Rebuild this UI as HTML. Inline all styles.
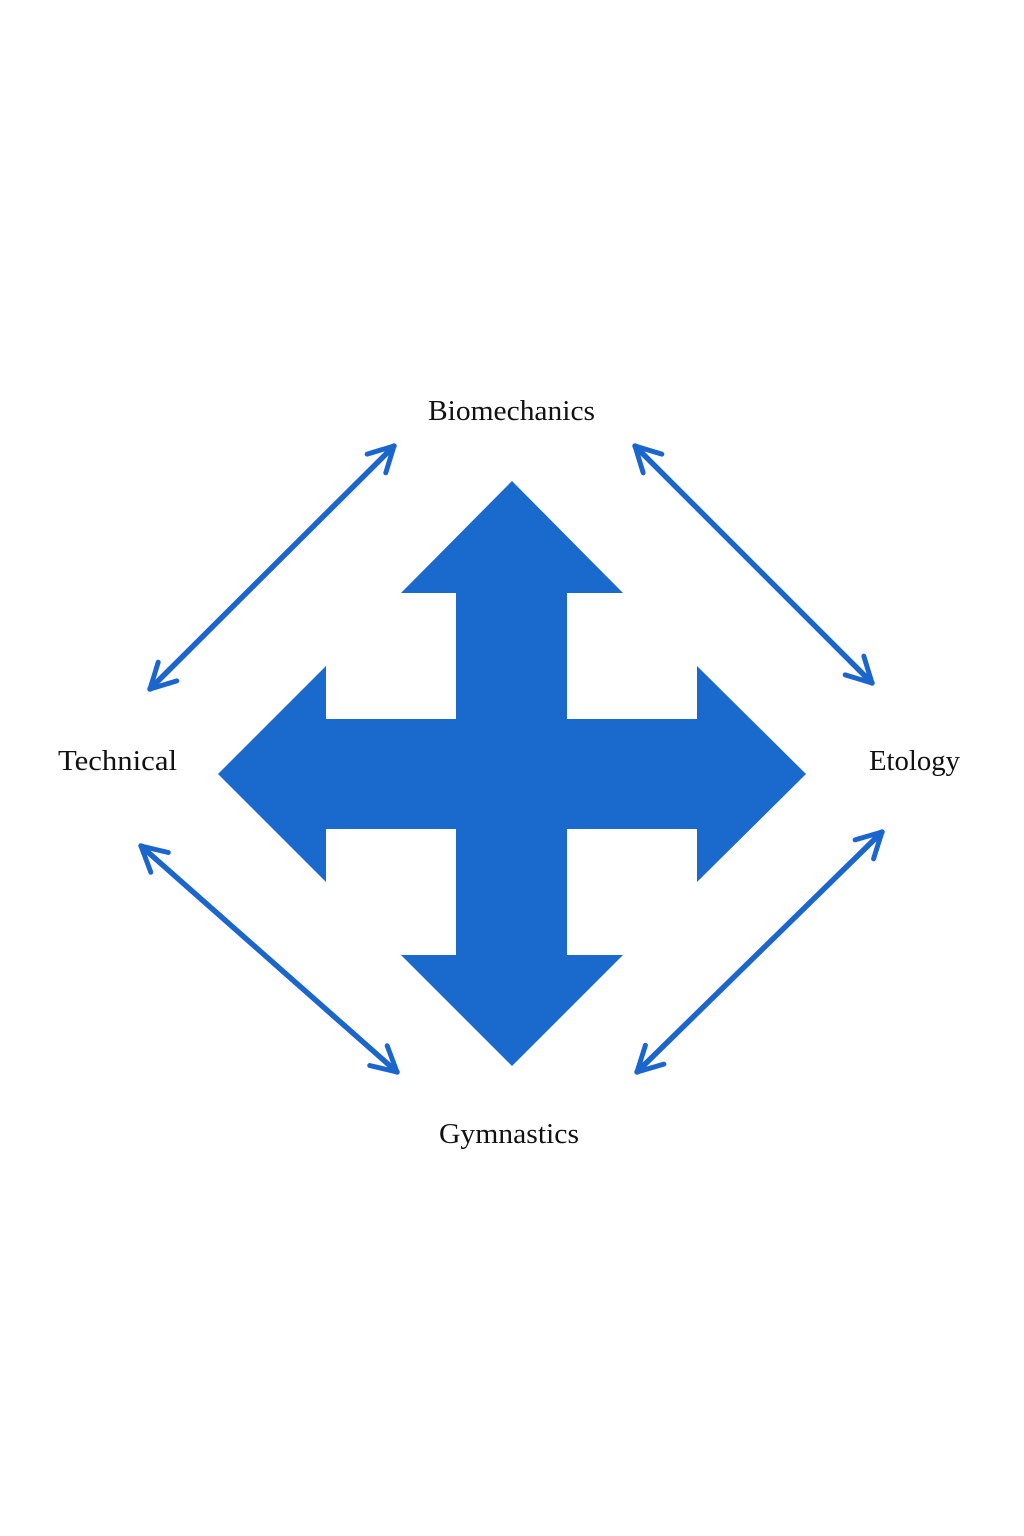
<!DOCTYPE html>
<html><head><style>
html,body{margin:0;padding:0;background:#fff;}
svg{display:block;}
text{font-family:"Liberation Serif",serif;font-size:28px;fill:#111;}
</style></head><body>
<svg width="1024" height="1536" viewBox="0 0 1024 1536">
<defs>
<marker id="a" viewBox="0 0 10 10" refX="8.5" refY="5" markerWidth="6" markerHeight="6" orient="auto-start-reverse" markerUnits="strokeWidth">
<path d="M1,1 L8.5,5 L1,9" fill="none" stroke="#1a66cc" stroke-width="1.5" stroke-linecap="round" stroke-linejoin="round"/>
</marker>
</defs>
<polygon fill="#1a69cc" points="512,481 623,593 567,593 567,719 697,719 697,666 806,774 697,882 697,829 567,829 567,955 623,955 512,1066 401,955 456,955 456,829 326,829 326,882 218,774 326,666 326,719 456,719 456,593 401,593"/>
<g stroke="#1a66cc" stroke-width="5.5" stroke-linecap="round" marker-start="url(#a)" marker-end="url(#a)">
<line x1="150" y1="689" x2="394" y2="446"/>
<line x1="635" y1="446" x2="872" y2="683"/>
<line x1="141" y1="846" x2="397" y2="1072"/>
<line x1="882" y1="832" x2="637" y2="1072"/>
</g>
<text x="428" y="420" textLength="167" lengthAdjust="spacingAndGlyphs">Biomechanics</text>
<text x="58" y="770" textLength="119" lengthAdjust="spacingAndGlyphs">Technical</text>
<text x="869" y="770" textLength="91" lengthAdjust="spacingAndGlyphs">Etology</text>
<text x="439" y="1143" textLength="140" lengthAdjust="spacingAndGlyphs">Gymnastics</text>
</svg>
</body></html>
